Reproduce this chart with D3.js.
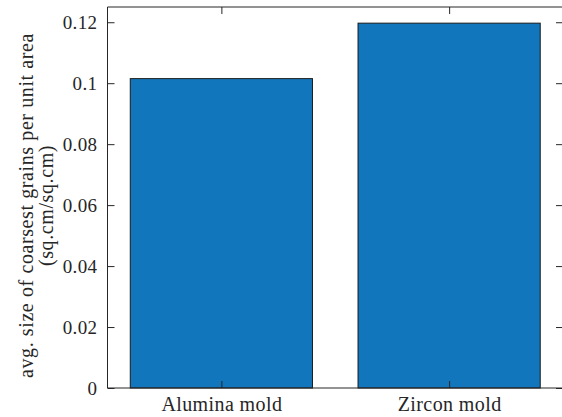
<!DOCTYPE html>
<html lang="en">
<head>
    <meta charset="UTF-8">
    <title>Coarsest grains</title>
    <script src="https://d3js.org/d3.v7.min.js"></script>
    <style>
        body { margin: 0; background: #fff; }
        svg text { font-family: "Liberation Serif", serif; fill: #262626; letter-spacing: 0.4px; }
        .axis path, .axis line { stroke: #262626; }
    </style>
</head>
<body>
    <svg width="562" height="417"></svg>
    <script>
        // data
        const categories = ["Alumina mold", "Zircon mold"];
        const values = [0.1015, 0.1197];
        const yTicks = [0, 0.02, 0.04, 0.06, 0.08, 0.1, 0.12];

        const svg = d3.select("svg");
        const margin = {top: 7, right: -1, bottom: 29, left: 107.5};
        const width = +svg.attr("width") - margin.left - margin.right;
        const height = +svg.attr("height") - margin.top - margin.bottom;

        const g = svg.append("g")
            .attr("transform", `translate(${margin.left},${margin.top})`);

        // positions 1..n like matlab
        const x = d3.scaleLinear()
            .domain([0.5, categories.length + 0.5])
            .range([0, width]);
        const y = d3.scaleLinear()
            .domain([0, 0.125])
            .range([height, 0]);

        const barW = (x(2) - x(1)) * 0.8;

        g.selectAll(".bar")
            .data(values)
            .enter().append("rect")
            .attr("class", "bar")
            .attr("x", (d, i) => x(i + 1) - barW / 2)
            .attr("y", d => y(d))
            .attr("width", barW)
            .attr("height", d => height - y(d))
            .attr("fill", "#1276bc")
            .attr("stroke", "#1a1a1a")
            .attr("stroke-width", 1);

        const fmt = d => d === 0 ? "0" : String(d);

        // left axis
        g.append("g")
            .attr("class", "axis")
            .call(d3.axisLeft(y).tickValues(yTicks).tickSize(-7).tickPadding(10).tickFormat(fmt))
            .call(a => a.select(".domain").attr("d", `M0,${height}V0`))
            .selectAll("text").style("font-size", "19px");

        // right axis ticks
        g.append("g")
            .attr("class", "axis")
            .attr("transform", `translate(${width},0)`)
            .call(d3.axisRight(y).tickValues(yTicks).tickSize(-7).tickFormat(""))
            .call(a => a.select(".domain").attr("d", `M0,${height}V0`));

        // bottom axis
        g.append("g")
            .attr("class", "axis")
            .attr("transform", `translate(0,${height})`)
            .call(d3.axisBottom(x).tickValues([1, 2]).tickSize(-7).tickPadding(9)
                .tickFormat(d => categories[d - 1]))
            .call(a => a.select(".domain").attr("d", `M0,0H${width}`))
            .selectAll("text").style("font-size", "20px");

        // top axis
        g.append("g")
            .attr("class", "axis")
            .call(d3.axisTop(x).tickValues([1, 2]).tickSize(-7).tickFormat(""))
            .call(a => a.select(".domain").attr("d", `M0,0H${width}`));

        // y label
        const yl = svg.append("text")
            .attr("transform", `translate(36,${margin.top + height / 2 + 8}) rotate(-90)`)
            .attr("text-anchor", "middle")
            .style("font-size", "20px")
            .style("letter-spacing", "0.6px");
        yl.append("tspan").attr("x", 0).attr("dy", "-0.15em").text("avg. size of coarsest grains per unit area");
        yl.append("tspan").attr("x", 0).attr("dy", "1.0em").text("(sq.cm/sq.cm)");
    </script>
</body>
</html>
